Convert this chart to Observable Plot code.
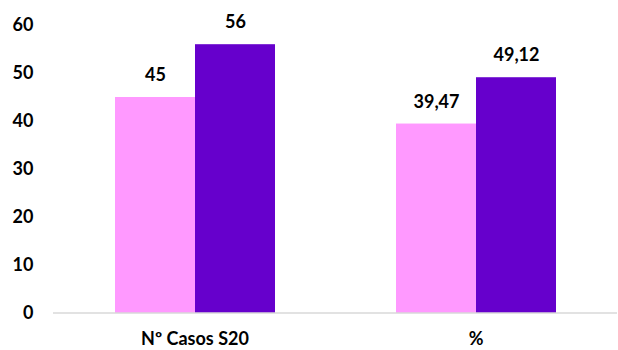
<!DOCTYPE html>
<html>
<head>
<meta charset="utf-8">
<script src="https://cdn.jsdelivr.net/npm/d3@7"></script>
<script src="https://cdn.jsdelivr.net/npm/@observablehq/plot@0.6"></script>
<style>
  html, body { margin: 0; padding: 0; background: #fff; }
</style>
</head>
<body>
<div id="chart"></div>
<script>
const groups = ["Nº Casos S20", "%"];
const series = ["Serie 1", "Serie 2"];
const valuesSerie1 = [45, 39.47];
const valuesSerie2 = [56, 49.12];
const colors = ["#FF99FF", "#6600CC"];
const yTicks = [0, 10, 20, 30, 40, 50, 60];

const data = [];
groups.forEach((g, i) => {
  data.push({group: g, series: series[0], value: valuesSerie1[i]});
  data.push({group: g, series: series[1], value: valuesSerie2[i]});
});

const fmt = v => String(v).replace(".", ",");

const plot = Plot.plot({
  width: 618,
  height: 350,
  marginLeft: 53,
  marginRight: 1,
  marginTop: 25,
  marginBottom: 37,
  style: {fontFamily: "Lato, sans-serif", fontWeight: "bold", fontSize: "18px", color: "#000", background: "#fff"},
  fx: {domain: groups, paddingInner: 0.4255, paddingOuter: 0.216, label: null, axis: "bottom", tickSize: 0, tickPadding: 19},
  x: {domain: series, axis: null, padding: 0},
  y: {domain: [0, 60], ticks: yTicks, label: null, tickSize: 0, tickPadding: 81},
  color: {domain: series, range: colors},
  marks: [
    Plot.barY(data, {fx: "group", x: "series", y: "value", fill: "series"}),
    Plot.text(data, {fx: "group", x: "series", y: "value", text: d => fmt(d.value), dy: -22, fill: "#000", fontWeight: "bold", fontSize: 18})
  ]
});

// full-width baseline drawn at y = 0 through the plot's own scale
const y0 = plot.scale("y").apply(0);
d3.select(plot).append("line")
  .attr("x1", 53).attr("x2", 617)
  .attr("y1", y0).attr("y2", y0)
  .attr("stroke", "#d9d9d9").attr("stroke-width", 1.5);

document.getElementById("chart").appendChild(plot);
</script>
</body>
</html>
